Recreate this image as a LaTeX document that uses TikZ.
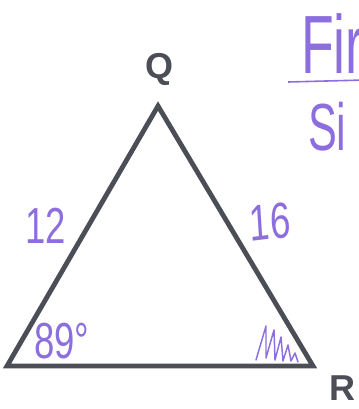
\documentclass[tikz,border=0pt]{standalone}
\usepackage{fontspec}
\setmainfont{Liberation Sans}
\definecolor{edge}{RGB}{75,78,86}
\definecolor{pen}{RGB}{140,110,222}
\begin{document}
\begin{tikzpicture}[x=0.75pt,y=-0.75pt,
  side/.style={draw=edge,line width=3.6pt,line join=miter},
  vlabel/.style={text=edge,font=\bfseries\fontsize{27}{27}\selectfont,inner sep=0pt},
  hand/.style={text=pen,inner sep=0pt,font=\fontsize{38}{38}\selectfont,xscale=0.72},
  pencil/.style={draw=pen,line width=1.1pt,line join=round,line cap=round}]
\useasboundingbox (0,0) rectangle (359,409);
\begin{scope}
\clip (0,0) rectangle (359,409);
\coordinate (Q) at (158,106);
\coordinate (P) at (7,366);
\coordinate (R) at (313,366);
\draw[side] (Q) -- (R) -- (P) -- cycle;
\node[vlabel] (lq) at (159,69) {Q};
\node[vlabel] (lr) at (342,388) {R};
\node[hand] (s12) at (46,226) {12};
\node[hand,rotate=5] (s16) at (270,222) {16};
\node[hand] (a89) at (62,341) {89°};
\draw[pencil] (256,360) -- (266,326) -- (266,358) -- (274,330) -- (275,360) -- (281,337) -- (283,361) -- (288,345) -- (291,361) -- (295,353) -- (298,362);
\node[hand,anchor=west,font=\fontsize{62}{62}\selectfont,xscale=0.9] (fir) at (301,44) {Fir};
\draw[pen,line width=1.2pt] (288,82) -- (365,80);
\node[hand,anchor=west,font=\fontsize{50}{50}\selectfont,xscale=0.9] (si) at (308,127) {Si};
\end{scope}
\end{tikzpicture}
\end{document}
